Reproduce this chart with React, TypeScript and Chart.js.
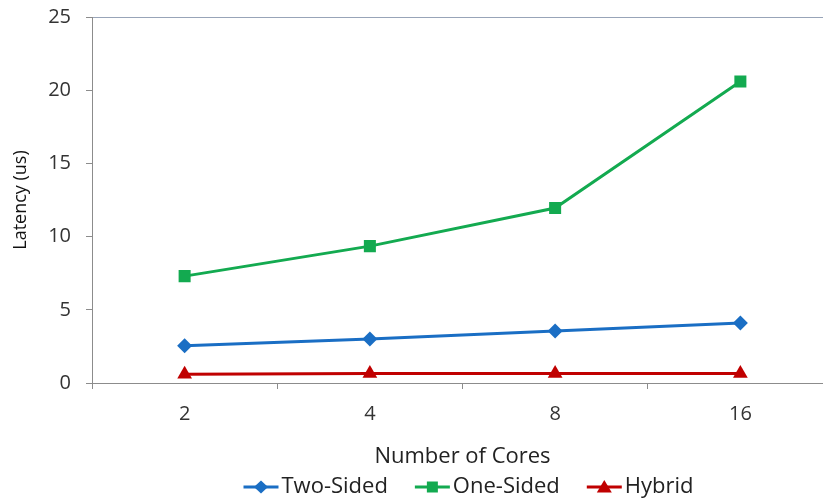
import React, { useEffect, useRef } from "react";
import { Chart, registerables } from "chart.js";

Chart.register(...registerables);

const categories = ["2", "4", "8", "16"];
const twoSided = [2.55, 3.0, 3.55, 4.1];
const oneSided = [7.3, 9.35, 11.95, 20.6];
const hybrid = [0.6, 0.65, 0.65, 0.65];
const yTicks = [0, 5, 10, 15, 20, 25];
const seriesNames = ["Two-Sided", "One-Sided", "Hybrid"];

const BLUE = "#1a6ec4";
const GREEN = "#13aa50";
const RED = "#c00000";
const FONT = "'Open Sans', 'Noto Sans', sans-serif";
const markerKinds = ["diamond", "square", "triangle"];

function drawMarker(ctx: CanvasRenderingContext2D, kind: string, x: number, y: number) {
  ctx.beginPath();
  if (kind === "diamond") {
    ctx.moveTo(x - 7, y);
    ctx.lineTo(x, y - 6.5);
    ctx.lineTo(x + 7, y);
    ctx.lineTo(x, y + 6.5);
  } else if (kind === "square") {
    ctx.rect(x - 5.5, y - 5.5, 11, 11);
  } else {
    ctx.moveTo(x - 7.5, y + 5.5);
    ctx.lineTo(x, y - 7);
    ctx.lineTo(x + 7.5, y + 5.5);
  }
  ctx.closePath();
  ctx.fill();
}

const customLegend = {
  id: "customLegend",
  afterDraw(chart: any) {
    const ctx: CanvasRenderingContext2D = chart.ctx;
    const area = chart.chartArea;
    const lineW = 35;
    const gapText = 3;
    const gapItem = 27;
    ctx.save();
    ctx.font = `22px ${FONT}`;
    ctx.textBaseline = "middle";
    ctx.textAlign = "left";
    const ds = chart.data.datasets;
    const widths = ds.map((d: any) => lineW + gapText + ctx.measureText(d.label).width);
    const total = widths.reduce((a: number, b: number) => a + b, 0) + gapItem * (ds.length - 1);
    let x = (area.left + area.right) / 2 + 6 - total / 2;
    const y = 487;
    ds.forEach((d: any, i: number) => {
      ctx.strokeStyle = d.borderColor;
      ctx.fillStyle = d.borderColor;
      ctx.lineWidth = 3;
      ctx.beginPath();
      ctx.moveTo(x, y);
      ctx.lineTo(x + lineW, y);
      ctx.stroke();
      drawMarker(ctx, markerKinds[i], x + lineW / 2, y);
      ctx.fillStyle = "#222";
      ctx.fillText(d.label, x + lineW + gapText, y);
      x += widths[i] + gapItem;
    });
    ctx.restore();
  },
};

export default function App() {
  const ref = useRef<HTMLCanvasElement | null>(null);
  useEffect(() => {
    if (!ref.current) return;
    const chart = new Chart(ref.current, {
      type: "line",
      data: {
        labels: categories,
        datasets: [
          {
            label: seriesNames[0],
            data: twoSided,
            borderColor: BLUE,
            backgroundColor: BLUE,
            borderWidth: 3,
            pointStyle: "rectRot",
            pointRadius: 7.5,
            pointHoverRadius: 7.5,
            pointBorderWidth: 0,
          },
          {
            label: seriesNames[1],
            data: oneSided,
            borderColor: GREEN,
            backgroundColor: GREEN,
            borderWidth: 3,
            pointStyle: "rect",
            pointRadius: 8.5,
            pointHoverRadius: 8.5,
            pointBorderWidth: 0,
          },
          {
            label: seriesNames[2],
            data: hybrid,
            borderColor: RED,
            backgroundColor: RED,
            borderWidth: 3,
            pointStyle: "triangle",
            pointRadius: 8.5,
            pointHoverRadius: 8.5,
            pointBorderWidth: 0,
          },
        ],
      },
      options: {
        animation: false,
        responsive: false,
        maintainAspectRatio: false,
        layout: { padding: { top: 17, right: 17, left: 0, bottom: 0 } },
        plugins: {
          tooltip: { enabled: false },
          legend: { display: false },
        },
        scales: {
          x: {
            type: "category",
            offset: true,
            afterFit: (s: any) => {
              s.height = 116;
            },
            grid: {
              offset: true,
              drawOnChartArea: false,
              drawTicks: true,
              tickLength: 6,
              color: "#8c8c8c",
            },
            border: { display: true, color: "#8c8c8c", width: 1 },
            ticks: { color: "#333", font: { family: FONT, size: 20 }, padding: 13 },
            title: {
              display: true,
              text: "Number of Cores",
              color: "#222",
              font: { family: FONT, size: 22 },
              padding: { top: 0, bottom: 29 },
            },
          },
          y: {
            min: 0,
            max: 25,
            afterBuildTicks: (s: any) => {
              s.ticks = yTicks.map((v) => ({ value: v }));
            },
            afterFit: (s: any) => {
              s.width = 92;
              s.paddingTop = 0;
              s.paddingBottom = 0;
            },
            grid: {
              drawTicks: true,
              tickLength: 6,
              color: (c: any) => (c.tick && c.tick.value === 25 ? "#98a4b8" : "rgba(0,0,0,0)"),
              tickColor: "#8c8c8c",
            },
            border: { display: true, color: "#8c8c8c", width: 1 },
            ticks: { color: "#333", font: { family: FONT, size: 20 }, padding: 15 },
            title: {
              display: true,
              text: "Latency (us)",
              color: "#111",
              font: { family: FONT, size: 18 },
              padding: { top: 10, bottom: 0 },
            },
          },
        },
      },
      plugins: [customLegend],
    });
    return () => chart.destroy();
  }, []);
  return (
    <div
      style={{
        position: "fixed",
        left: 0,
        top: 0,
        width: 823,
        height: 499,
        overflow: "hidden",
        background: "#fff",
      }}
    >
      <canvas ref={ref} width={850} height={499} style={{ display: "block" }} />
    </div>
  );
}
